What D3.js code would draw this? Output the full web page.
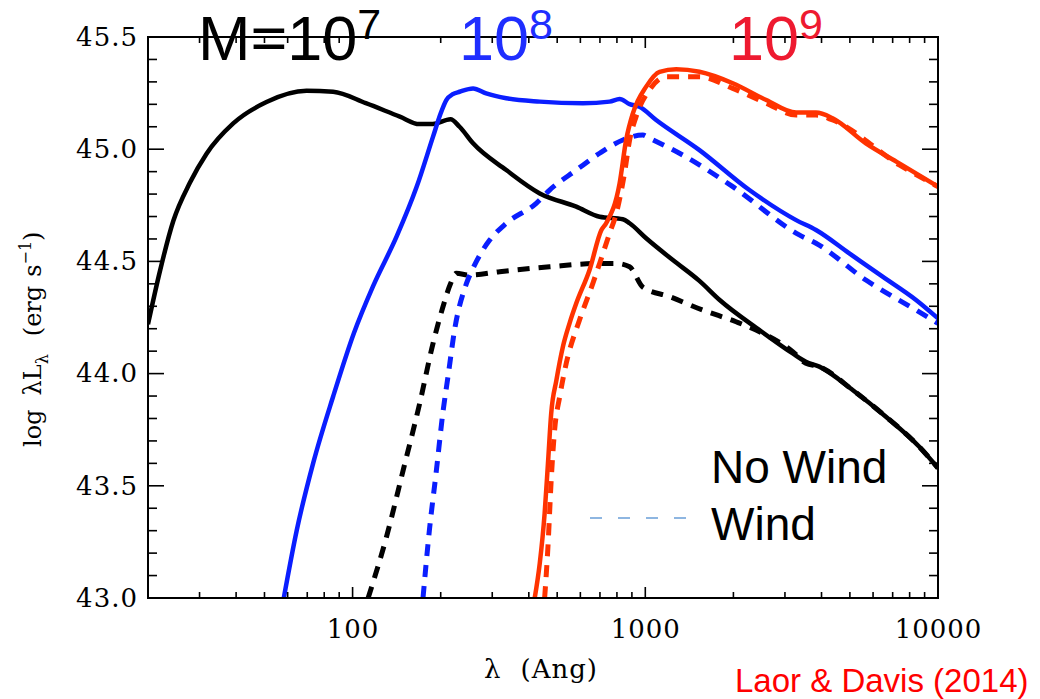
<!DOCTYPE html>
<html><head><meta charset="utf-8">
<script src="https://cdn.jsdelivr.net/npm/d3@7"></script>
<style>body{margin:0;background:#fff}svg{display:block}</style>
</head><body><svg id="c" width="1040" height="699"></svg>
<script>
// ---------- data (wavelength in Angstrom, log lambda*L_lambda) ----------
const m7NoWindLam = [20, 22.0, 24.4, 27.8, 31.7, 39.1, 50.8, 69.6, 85.8, 111, 145, 169, 188, 216, 232, 258, 335, 436, 581, 698, 838, 884, 1007, 1242, 1531, 1795, 2456, 3189, 3537, 3931, 5109, 6639, 8630, 10000];
const m7NoWindL   = [44.22, 44.46, 44.68, 44.85, 44.98, 45.115, 45.21, 45.26, 45.256, 45.205, 45.145, 45.112, 45.112, 45.133, 45.10, 45.026, 44.907, 44.803, 44.744, 44.699, 44.688, 44.670, 44.603, 44.506, 44.413, 44.328, 44.194, 44.090, 44.053, 44.031, 43.927, 43.808, 43.674, 43.579];

const m7WindLam = [113, 130.6, 148.9, 169.6, 188.3, 203.6, 216, 226, 251, 318, 471, 698, 796, 884, 982, 1210, 1572, 2042, 2389, 3189, 3537, 3931, 5109, 6639, 8630, 10000];
const m7WindL   = [43.0, 43.273, 43.570, 43.868, 44.135, 44.298, 44.40, 44.447, 44.439, 44.454, 44.476, 44.491, 44.491, 44.476, 44.385, 44.343, 44.283, 44.231, 44.194, 44.098, 44.046, 44.031, 43.927, 43.808, 43.674, 43.579];

const m8NoWindLam = [58.2, 64.4, 73.3, 85.9, 101, 117.5, 141.3, 165.3, 188.3, 200, 209, 220, 232, 258, 286, 335, 436, 612, 755, 817, 884, 955, 1089, 1531, 2268, 3276, 3830, 4977, 6467, 8413, 10000];
const m8NoWindL   = [43.0, 43.30, 43.60, 43.90, 44.18, 44.39, 44.61, 44.83, 45.056, 45.16, 45.219, 45.245, 45.256, 45.271, 45.249, 45.227, 45.212, 45.205, 45.212, 45.224, 45.201, 45.189, 45.130, 44.996, 44.818, 44.684, 44.640, 44.536, 44.432, 44.328, 44.246];

const m8WindLam = [174, 183, 193, 204, 212, 223, 245, 258, 272, 294, 335, 424, 471, 581, 698, 838, 981, 1033, 1342, 1990, 3357, 3830, 5670, 8413, 10000];
const m8WindL   = [43.0, 43.303, 43.560, 43.838, 43.990, 44.194, 44.402, 44.47, 44.528, 44.595, 44.670, 44.759, 44.818, 44.907, 44.982, 45.041, 45.063, 45.049, 44.974, 44.833, 44.618, 44.581, 44.417, 44.283, 44.224];

const m9NoWindLam = [419, 436, 453, 465, 477, 497, 523, 551, 581, 645, 708, 735, 817, 860, 907, 1007, 1119, 1275, 1531, 1990, 2590, 3276, 3830, 4364, 5670, 7374, 10000];
const m9NoWindL   = [43.0, 43.155, 43.377, 43.600, 43.823, 43.971, 44.120, 44.224, 44.313, 44.462, 44.640, 44.670, 44.848, 45.041, 45.160, 45.279, 45.345, 45.356, 45.345, 45.294, 45.219, 45.163, 45.163, 45.138, 45.026, 44.937, 44.833];

const m9WindLam = [453, 465, 477, 490, 510, 537, 596, 662, 698, 755, 796, 849, 884, 930, 1033, 1178, 1531, 1990, 2590, 3276, 3830, 4364, 7374, 10000];
const m9WindL   = [43.0, 43.229, 43.526, 43.749, 43.897, 44.046, 44.239, 44.402, 44.491, 44.625, 44.714, 44.893, 45.041, 45.145, 45.264, 45.323, 45.323, 45.271, 45.205, 45.152, 45.152, 45.130, 44.930, 44.833];

const xDomain = [20, 10000];
const yDomain = [43.0, 45.5];
const xMajorTicks = [100, 1000, 10000];
const yMajorTicks = [43.0, 43.5, 44.0, 44.5, 45.0, 45.5];

// ---------- layout ----------
const PL = 148, PR = 938, PT = 37, PB = 598;
const svg = d3.select('#c');
const x = d3.scaleLog().domain(xDomain).range([PL, PR]);
const y = d3.scaleLinear().domain(yDomain).range([PB, PT]);

const BLACK = '#000000', BLUE = '#0a1eff', RED = '#ff3300';
const series = [
  {lam: m7NoWindLam, val: m7NoWindL, color: BLACK, dash: null},
  {lam: m7WindLam,   val: m7WindL,   color: BLACK, dash: '12,9'},
  {lam: m8NoWindLam, val: m8NoWindL, color: BLUE,  dash: null},
  {lam: m8WindLam,   val: m8WindL,   color: BLUE,  dash: '12,9'},
  {lam: m9NoWindLam, val: m9NoWindL, color: RED,   dash: null},
  {lam: m9WindLam,   val: m9WindL,   color: RED,   dash: '12,9'}
];

svg.append('defs').append('clipPath').attr('id', 'clip')
  .append('rect').attr('x', PL).attr('y', PT).attr('width', PR - PL).attr('height', PB - PT);

const lineGen = d3.line().x(d => x(d[0])).y(d => y(d[1])).curve(d3.curveMonotoneX);
const gLines = svg.append('g').attr('clip-path', 'url(#clip)');
series.forEach(s => {
  const pts = s.lam.map((l, i) => [l, s.val[i]]);
  gLines.append('path').datum(pts).attr('d', lineGen)
    .attr('fill', 'none').attr('stroke', s.color)
    .attr('stroke-width', s.dash ? 5 : 4.5)
    .attr('stroke-dasharray', s.dash)
    .attr('stroke-linejoin', 'round');
});

// ---------- ticks ----------
const xMinor = x.ticks().filter(v => !xMajorTicks.includes(v) && v > xDomain[0]);
const yMinor = y.ticks(25).filter(v => !yMajorTicks.some(m => Math.abs(m - v) < 1e-6));
const gTicks = svg.append('g').attr('stroke', '#000').attr('stroke-width', 1.6);
function xTicks(vals, len) {
  vals.forEach(v => {
    const px = x(v);
    gTicks.append('line').attr('x1', px).attr('x2', px).attr('y1', PB).attr('y2', PB - len);
    gTicks.append('line').attr('x1', px).attr('x2', px).attr('y1', PT).attr('y2', PT + len);
  });
}
function yTicks(vals, len) {
  vals.forEach(v => {
    const py = y(v);
    gTicks.append('line').attr('x1', PL).attr('x2', PL + len).attr('y1', py).attr('y2', py);
    gTicks.append('line').attr('x1', PR).attr('x2', PR - len).attr('y1', py).attr('y2', py);
  });
}
xTicks(xMajorTicks, 11);
xTicks(xMinor, 6);
yTicks(yMajorTicks, 16);
yTicks(yMinor, 9);

// tick labels through d3 axes
const tickFont = '"DejaVu Serif", serif';
function styleLabels(sel) {
  sel.select('.domain').remove();
  sel.selectAll('.tick line').remove();
  sel.selectAll('.tick text').attr('fill', '#000').attr('font-family', tickFont)
    .attr('font-size', 26).attr('letter-spacing', '1px');
}
svg.append('g').attr('transform', `translate(0,${PB})`)
  .call(d3.axisBottom(x).tickValues(xMajorTicks).tickSize(0).tickPadding(22).tickFormat(d3.format('d')))
  .call(styleLabels);
svg.append('g').attr('transform', `translate(${PL},0)`)
  .call(d3.axisLeft(y).tickValues(yMajorTicks).tickSize(0).tickPadding(10).tickFormat(d3.format('.1f')))
  .call(styleLabels);

// frame
svg.append('rect').attr('x', PL).attr('y', PT).attr('width', PR - PL).attr('height', PB - PT)
  .attr('fill', 'none').attr('stroke', '#000').attr('stroke-width', 2);

// ---------- axis titles ----------
const xt = svg.append('text').attr('x', 484).attr('y', 678)
  .attr('font-family', tickFont).attr('font-size', 26).attr('fill', '#000');
xt.append('tspan').text('λ');
xt.append('tspan').attr('dx', 20).attr('letter-spacing', '1px').text('(Ang)');

const yt = svg.append('text').attr('transform', 'rotate(-90)')
  .attr('x', -447).attr('y', 41)
  .attr('font-family', tickFont).attr('font-size', 24).attr('fill', '#000');
yt.append('tspan').text('log');
yt.append('tspan').attr('dx', 14).text('λL');
yt.append('tspan').attr('dy', 7).attr('font-size', 16).text('λ');
yt.append('tspan').attr('dx', 18).attr('dy', -7).text('(erg');
yt.append('tspan').attr('dx', 9).text('s');
yt.append('tspan').attr('dy', -10).attr('font-size', 16).text('−1');
yt.append('tspan').attr('dy', 10).text(')');

// ---------- mass labels ----------
const sans = '"Liberation Sans", Arial, sans-serif';
function massLabel(xp, base, exp, color) {
  const t = svg.append('text').attr('x', xp).attr('y', 60)
    .attr('font-family', sans).attr('font-size', 63).attr('fill', color);
  t.append('tspan').text(base);
  t.append('tspan').attr('dy', -21).attr('font-size', 43).text(exp);
}
massLabel(198, 'M=10', '7', '#000000');
massLabel(459, '10', '8', '#1f2eff');
massLabel(729, '10', '9', '#ee1a30');

// ---------- legend ----------
svg.append('text').attr('x', 711).attr('y', 483).attr('font-family', sans)
  .attr('font-size', 46).attr('fill', '#000').text('No Wind');
svg.append('text').attr('x', 711).attr('y', 540).attr('font-family', sans)
  .attr('font-size', 46).attr('fill', '#000').text('Wind');
svg.append('line').attr('x1', 590).attr('x2', 688).attr('y1', 518).attr('y2', 518)
  .attr('stroke', '#6a9fd8').attr('stroke-width', 1.5).attr('stroke-dasharray', '12,16');

// ---------- citation ----------
svg.append('text').attr('x', 735).attr('y', 692).attr('font-family', sans)
  .attr('font-size', 33).attr('fill', '#ff0000').text('Laor & Davis (2014)');
</script>
</body></html>
